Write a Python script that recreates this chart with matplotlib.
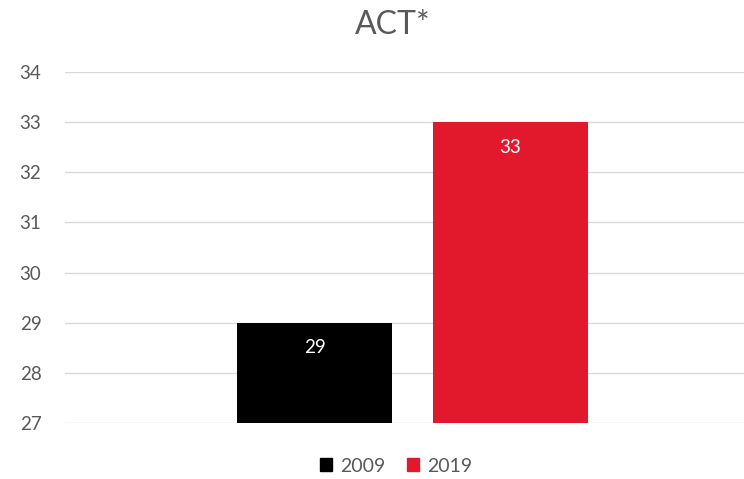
import matplotlib.pyplot as plt
from matplotlib.patches import Patch

years = ["2009", "2019"]
scores = [29, 33]
colors = ["#000000", "#E2182C"]
title = "ACT*"

plt.rcParams["font.family"] = ["Lato", "DejaVu Sans"]
TXT = "#595959"

fig = plt.figure(figsize=(7.44, 4.79), dpi=100)
ax = fig.add_axes([65 / 744, 1 - 423 / 479, 1 - 65 / 744, (423 - 72) / 479])

pos = [0, 1]
w = 155 / 196
bars = ax.bar(pos, [s - 27 for s in scores], bottom=27, width=w, color=colors, zorder=3)
for b, s in zip(bars, scores):
    ax.annotate(f"{s}", xy=(b.get_x() + b.get_width() / 2, s), xytext=(0, -12),
                textcoords="offset points", ha="center", va="top",
                color="white", fontsize=13.5)

ax.set_xlim((65 - 314.5) / 196, (744 - 314.5) / 196)
ax.set_ylim(27, 34)
ax.set_yticks(range(27, 35))
ax.set_xticks([])
ax.grid(True, axis="y", color="#d9d9d9", linewidth=1, zorder=0)
for sp in ax.spines.values():
    sp.set_visible(False)
ax.tick_params(axis="y", length=0, labelsize=13.5, labelcolor=TXT, pad=17)

fig.text(393 / 744, 1 - 25 / 479, title, ha="center", va="center",
         fontsize=23, color=TXT)

handles = [Patch(color=c, label=y) for c, y in zip(colors, years)]
fig.legend(handles=handles, loc="center", bbox_to_anchor=(396 / 744, 1 - 466 / 479),
           ncol=2, frameon=False, fontsize=14, handlelength=0.65, handleheight=0.65,
           handletextpad=0.4, columnspacing=1.1, labelcolor=TXT)

fig.savefig("out.png", dpi=100, facecolor="white")
